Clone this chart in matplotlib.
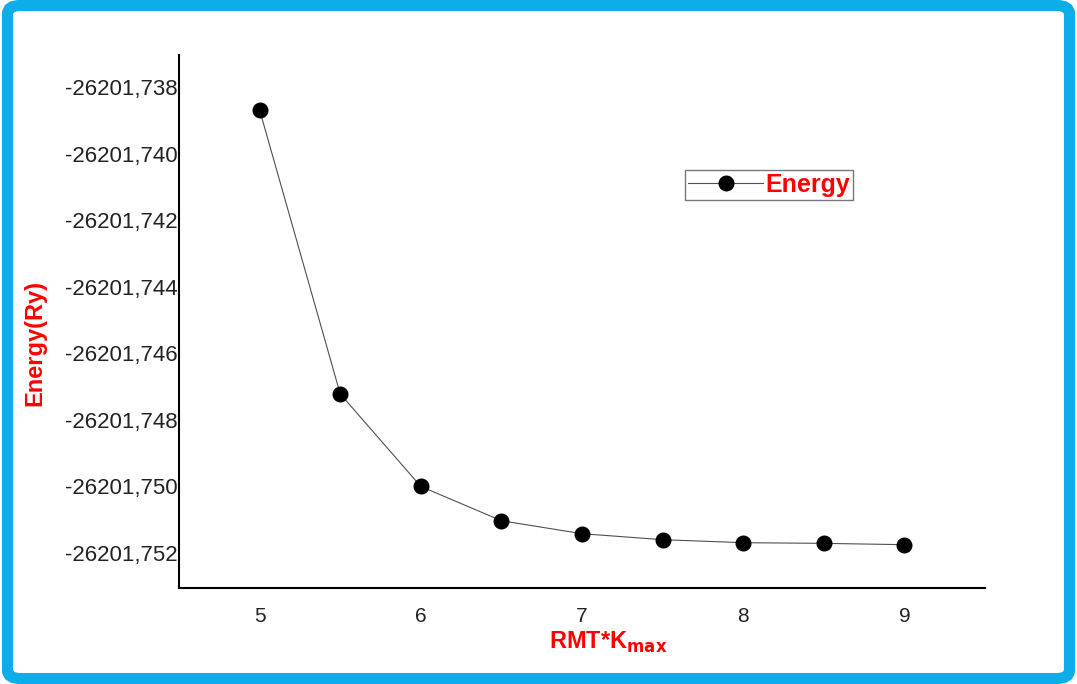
import matplotlib
matplotlib.use('Agg')
import matplotlib.pyplot as plt
from matplotlib.patches import FancyBboxPatch
from matplotlib.ticker import FuncFormatter

plt.rcParams['font.family'] = ['Liberation Sans', 'DejaVu Sans']

# RMT*Kmax vs total energy (Ry)
rkmax = [5.0, 5.5, 6.0, 6.5, 7.0, 7.5, 8.0, 8.5, 9.0]
energy = [-26201.73869, -26201.74722, -26201.75000, -26201.75103, -26201.75142,
          -26201.75160, -26201.75169, -26201.75171, -26201.75175]
xticks = [5, 6, 7, 8, 9]
yticks = [-26201.738, -26201.740, -26201.742, -26201.744,
          -26201.746, -26201.748, -26201.750, -26201.752]

fig = plt.figure(figsize=(10.77, 6.84), dpi=100)
ax = fig.add_axes([0.1662, 0.1404, 0.7484, 0.7792])

# cadre bleu
frame = FancyBboxPatch((0.007, 0.008), 0.986, 0.984, transform=fig.transFigure,
                       boxstyle='round,pad=0,rounding_size=0.012',
                       fill=False, edgecolor='#0BAEE9', linewidth=8, zorder=10)
fig.patches.append(frame)

ax.plot(rkmax, energy, '-', color='#505050', linewidth=0.8,
        marker='o', markersize=10.5, markerfacecolor='black',
        markeredgecolor='black', label='Energy')

ax.set_xlim(4.5, 9.5)
ax.set_ylim(-26201.75305, -26201.73704)
ax.set_xticks(xticks)
ax.set_yticks(yticks)
ax.yaxis.set_major_formatter(FuncFormatter(lambda v, p: f'{v:.3f}'.replace('.', ',')))
ax.tick_params(axis='both', length=0, colors='#222222')
ax.tick_params(axis='y', pad=1, labelsize=16)
ax.tick_params(axis='x', pad=14, labelsize=15)

for s in ['top', 'right']:
    ax.spines[s].set_visible(False)
for s in ['left', 'bottom']:
    ax.spines[s].set_linewidth(1.5)

ax.set_xlabel(r'RMT*K$_{\mathbf{max}}$', color='red', fontsize=17,
              fontweight='bold')
ax.set_ylabel('Energy(Ry)', color='red', fontsize=17, fontweight='bold')
ax.xaxis.set_label_coords(0.532, -0.078)
ax.yaxis.set_label_coords(-0.165, 0.46)

leg = ax.legend(loc='upper left', bbox_to_anchor=(0.628, 0.785), fontsize=18,
                frameon=True, fancybox=False, borderpad=0.12,
                handlelength=3.0, handletextpad=0.1, borderaxespad=0)
leg.get_frame().set_edgecolor('#555555')
leg.get_frame().set_linewidth(1.0)
for t in leg.get_texts():
    t.set_color('red')
    t.set_fontweight('bold')

fig.savefig('out.png', dpi=100)
